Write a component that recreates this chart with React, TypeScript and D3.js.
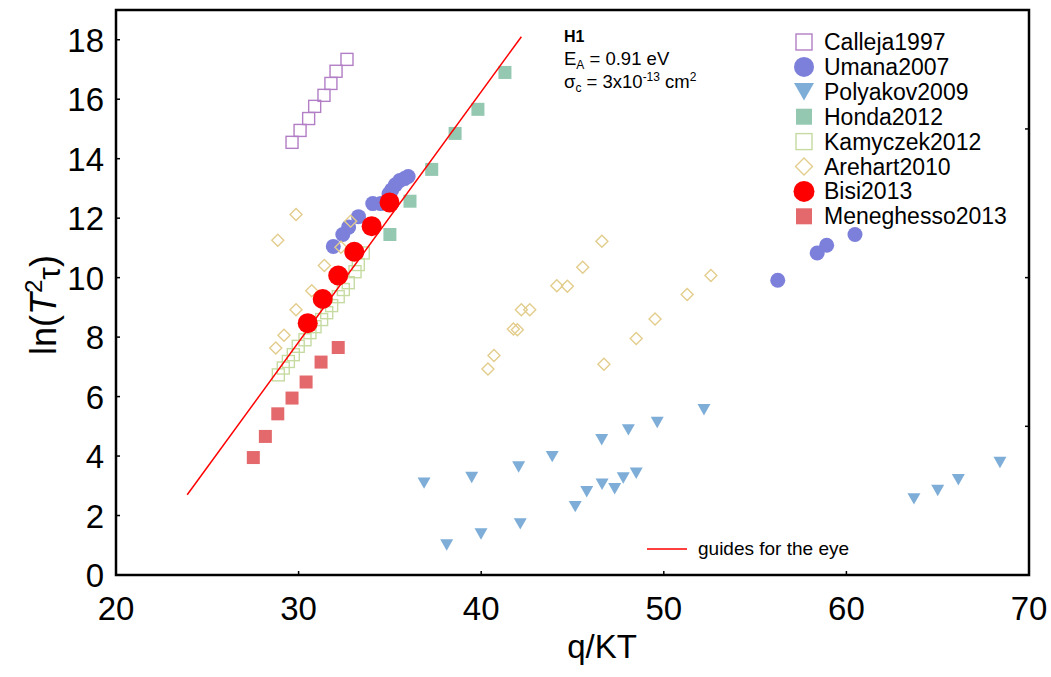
import React from "react";
import * as d3 from "d3";

const W = 1051;
const H = 677;

// ---- data ----
const calleja1997: [number, number][] = [
  [29.64, 14.55], [30.08, 14.95], [30.55, 15.35], [30.88, 15.76],
  [31.39, 16.13], [31.77, 16.53], [32.05, 16.94], [32.65, 17.34],
];
const umana2007: [number, number][] = [
  [31.9, 11.05], [32.42, 11.45], [32.74, 11.7], [33.28, 12.05],
  [34.06, 12.49], [34.5, 12.49], [34.95, 12.82], [35.1, 12.95],
  [35.3, 13.12], [35.55, 13.27], [35.8, 13.33], [36.0, 13.4],
  [56.24, 9.91], [58.4, 10.83], [58.92, 11.09], [60.47, 11.45],
];
const polyakov2009: [number, number][] = [
  [36.87, 3.09], [39.48, 3.28], [42.05, 3.63], [43.89, 3.98],
  [46.6, 4.55], [48.06, 4.88], [49.64, 5.13], [52.2, 5.56],
  [38.11, 1.01], [39.99, 1.38], [42.14, 1.72], [45.15, 2.3],
  [45.78, 2.8], [46.62, 3.05], [47.31, 2.9], [47.78, 3.26],
  [48.49, 3.42], [63.7, 2.56], [65.0, 2.84], [66.13, 3.2], [68.41, 3.78],
];
const honda2012: [number, number][] = [
  [35.0, 11.45], [36.1, 12.57], [37.29, 13.64], [38.57, 14.85],
  [39.82, 15.66], [41.3, 16.9],
];
const kamyczek2012: [number, number][] = [
  [28.89, 6.73], [29.16, 6.96], [29.44, 7.18], [29.71, 7.41],
  [29.98, 7.69], [30.35, 7.91], [30.62, 8.15], [30.9, 8.35],
  [31.26, 8.59], [31.54, 8.82], [31.81, 9.06], [32.17, 9.36],
  [32.45, 9.6], [32.72, 9.83], [33.09, 10.2], [33.27, 10.44], [33.54, 10.83],
];
const arehart2010: [number, number][] = [
  [28.75, 7.63], [29.2, 8.06], [29.86, 8.92], [30.72, 9.56],
  [31.41, 10.41], [32.32, 11.02], [32.85, 11.9], [28.86, 11.26],
  [29.86, 12.12], [40.37, 6.93], [40.7, 7.38], [41.76, 8.27],
  [41.98, 8.25], [42.2, 8.92], [42.66, 8.92], [44.14, 9.73],
  [44.72, 9.71], [45.56, 10.35], [46.61, 11.22], [46.72, 7.09],
  [48.49, 7.95], [49.52, 8.61], [51.28, 9.43], [52.58, 10.07],
];
const bisi2013: [number, number][] = [
  [30.5, 8.47], [31.32, 9.28], [32.17, 10.07], [33.05, 10.87],
  [34.0, 11.73], [34.98, 12.53],
];
const meneghesso2013: [number, number][] = [
  [27.52, 3.95], [28.18, 4.66], [28.86, 5.42], [29.64, 5.95],
  [30.41, 6.49], [31.23, 7.16], [32.17, 7.65],
];
const guideLine: [number, number][] = [[23.9, 2.7], [42.2, 18.1]];

const xTicks = [20, 30, 40, 50, 60, 70];
const yTicks = [0, 2, 4, 6, 8, 10, 12, 14, 16, 18];
const yRightTicks = [5, 10, 15];

type Shape = "square" | "circle" | "tri" | "diamond";
interface Series {
  name: string;
  data: [number, number][];
  shape: Shape;
  fill: string;
  stroke: string;
  size: number;
  legendSize: number;
}

const series: Series[] = [
  { name: "Calleja1997", data: calleja1997, shape: "square", fill: "none", stroke: "#b27ec6", size: 12, legendSize: 16 },
  { name: "Umana2007", data: umana2007, shape: "circle", fill: "#7d80da", stroke: "none", size: 15, legendSize: 20 },
  { name: "Polyakov2009", data: polyakov2009, shape: "tri", fill: "#7eaed8", stroke: "none", size: 13, legendSize: 20 },
  { name: "Honda2012", data: honda2012, shape: "square", fill: "#94c8b1", stroke: "none", size: 13, legendSize: 16 },
  { name: "Kamyczek2012", data: kamyczek2012, shape: "square", fill: "none", stroke: "#c6dba2", size: 12, legendSize: 16 },
  { name: "Arehart2010", data: arehart2010, shape: "diamond", fill: "none", stroke: "#e3cd8c", size: 12, legendSize: 17 },
  { name: "Bisi2013", data: bisi2013, shape: "circle", fill: "#ff0000", stroke: "none", size: 20, legendSize: 21 },
  { name: "Meneghesso2013", data: meneghesso2013, shape: "square", fill: "#e4696c", stroke: "none", size: 13, legendSize: 16 },
];

function Marker({ shape, x, y, s, fill, stroke }: { shape: Shape; x: number; y: number; s: number; fill: string; stroke: string }) {
  const sw = stroke === "none" ? 0 : 1.4;
  if (shape === "circle") return <circle cx={x} cy={y} r={s / 2} fill={fill} />;
  if (shape === "square")
    return <rect x={x - s / 2} y={y - s / 2} width={s} height={s} fill={fill} stroke={stroke} strokeWidth={sw} />;
  if (shape === "tri") {
    const h = s * 0.88;
    const d = `M${x - s / 2},${y - h / 2}L${x + s / 2},${y - h / 2}L${x},${y + h / 2}Z`;
    return <path d={d} fill={fill} />;
  }
  const r = s / 2;
  const d = `M${x},${y - r}L${x + r},${y}L${x},${y + r}L${x - r},${y}Z`;
  return <path d={d} fill={fill} stroke={stroke} strokeWidth={sw} />;
}

export default function App() {
  const left = 116, right = 1029, top = 10, bottom = 575;
  const x = d3.scaleLinear().domain([20, 70]).range([left, right]);
  const y = d3.scaleLinear().domain([0, 19]).range([bottom, top]);
  const line = d3.line<[number, number]>().x((d) => x(d[0])).y((d) => y(d[1]));
  const font = "Liberation Sans, Arial, sans-serif";

  const legX = 804;
  const legY0 = 42;
  const legDy = 24.9;

  return (
    <svg width={W} height={H} style={{ position: "absolute", left: 0, top: 0, background: "#fff" }} fontFamily={font}>
      {/* series */}
      {series.map((s) => (
        <g key={s.name}>
          {s.data.map((d, i) => (
            <Marker key={i} shape={s.shape} x={x(d[0])} y={y(d[1])} s={s.size} fill={s.fill} stroke={s.stroke} />
          ))}
        </g>
      ))}
      <path d={line(guideLine) || ""} stroke="#ff0000" strokeWidth={1.5} fill="none" />

      {/* frame */}
      <rect x={left} y={top} width={right - left} height={bottom - top} fill="none" stroke="#000" strokeWidth={2.5} />
      {xTicks.map((t) => (
        <g key={"x" + t}>
          <line x1={x(t)} x2={x(t)} y1={bottom} y2={bottom - 4} stroke="#000" strokeWidth={1.5} />
          <text x={x(t)} y={620} fontSize={33} textAnchor="middle" fill="#000">{t}</text>
        </g>
      ))}
      {yTicks.map((t) => (
        <g key={"y" + t}>
          <line x1={left} x2={left + 4} y1={y(t)} y2={y(t)} stroke="#000" strokeWidth={1.5} />
          <text x={104} y={y(t) + 12} fontSize={33} textAnchor="end" fill="#000">{t}</text>
        </g>
      ))}
      {yRightTicks.map((t) => (
        <line key={"r" + t} x1={right} x2={right - 4} y1={y(t)} y2={y(t)} stroke="#000" strokeWidth={1.5} />
      ))}

      {/* axis titles */}
      <text x={602} y={658} fontSize={33} textAnchor="middle" fill="#000">q/KT</text>
      <text transform="translate(56,305) rotate(-90)" fontSize={36} textAnchor="middle" fill="#000">
        ln(<tspan fontStyle="italic">T</tspan>
        <tspan fontSize={24} dy={-14}>2</tspan>
        <tspan dy={18} fontSize={32}>τ</tspan>
        <tspan dy={-4}>)</tspan>
      </text>

      {/* annotation */}
      <text x={564} y={42} fontSize={16} fontWeight="bold" fill="#000">H1</text>
      <text x={564} y={65} fontSize={18.5} fill="#000">
        E<tspan fontSize={12} dy={4}>A</tspan><tspan dy={-4}> = 0.91 eV</tspan>
      </text>
      <text x={564} y={88} fontSize={18.5} fill="#000">
        σ<tspan fontSize={12} dy={4}>c</tspan><tspan dy={-4}> = 3x10</tspan>
        <tspan fontSize={12} dy={-7}>-13</tspan><tspan dy={7}> cm</tspan>
        <tspan fontSize={12} dy={-7}>2</tspan>
      </text>

      {/* legend */}
      {series.map((s, i) => {
        const ly = legY0 + i * legDy;
        return (
          <g key={"l" + s.name}>
            <Marker shape={s.shape} x={legX} y={ly} s={s.legendSize} fill={s.fill} stroke={s.stroke} />
            <text x={824} y={ly + 8} fontSize={23} fill="#000">{s.name}</text>
          </g>
        );
      })}

      {/* guide legend */}
      <line x1={647} x2={687} y1={549} y2={549} stroke="#ff0000" strokeWidth={1.5} />
      <text x={698} y={555} fontSize={19} fill="#000">guides for the eye</text>
    </svg>
  );
}
